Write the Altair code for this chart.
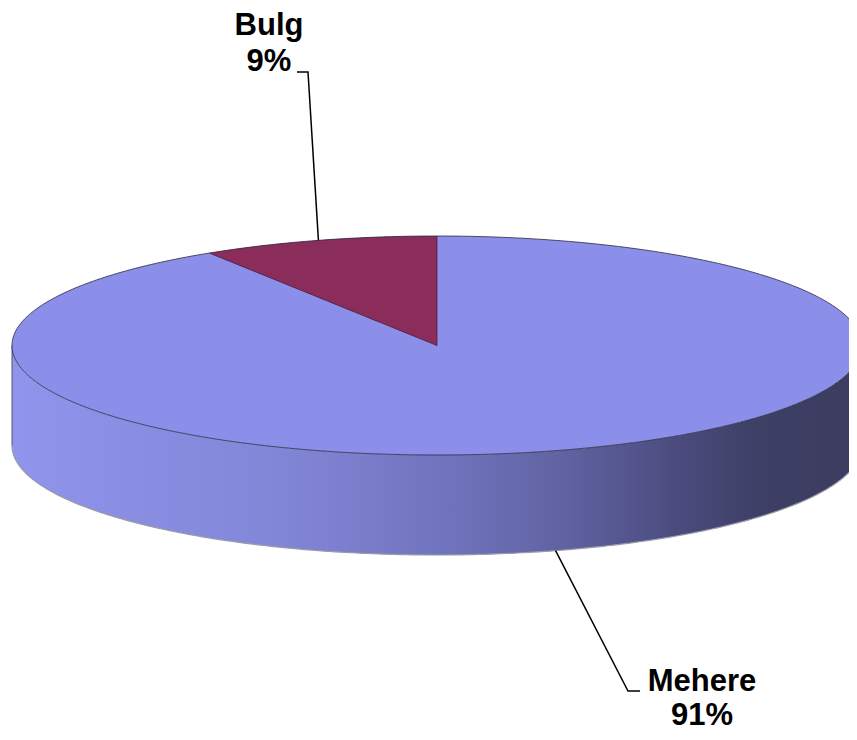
import numpy as np
import pandas as pd
import altair as alt

# ---- data ----
categories = ["Mehere", "Bulg"]
values = [91, 9]

# ---- 3D pie projection (layout) ----
CX, CY = 437.0, 345.5      # centre of top face (page px)
RX, RY = 425.0, 109.5      # ellipse radii
DEPTH = 100.0              # thickness of the pie
N = 240

total = float(sum(values))
bulg_share = values[1] / total
alpha = 2 * np.pi * bulg_share          # Bulg runs from -alpha to 0 (12 o'clock, ccw)

def rim(theta):
    return CX + RX * np.sin(theta), CY - RY * np.cos(theta)

# top face (whole ellipse, Mehere colour)
phi = np.linspace(0, np.pi, N)
u = -np.cos(phi)
h = np.sin(phi)
top_df = pd.DataFrame({"x": CX + RX * u, "y": CY - RY * h, "y2": CY + RY * h})

# Bulg slice
th = np.linspace(-alpha, 0, 80)
bx, by = rim(th)
ex, ey = rim(-alpha)
t = (CX - bx) / (CX - ex)
bulg_df = pd.DataFrame({"x": bx, "y": by, "y2": CY + t * (ey - CY)})

# side wall (front half)
ths = np.linspace(np.pi / 2, 3 * np.pi / 2, N)
sx, sy = rim(ths)
side_df = pd.DataFrame({"x": sx, "y": sy, "y2": sy + DEPTH}).sort_values("x")

# outlines
tho = np.linspace(0, 2 * np.pi, 400)
ox, oy = rim(tho)
rim_df = pd.DataFrame({"x": ox, "y": oy, "i": np.arange(len(ox))})
bot_df = pd.DataFrame({"x": sx, "y": sy + DEPTH, "i": np.arange(len(sx))})
tx0, ty0 = rim(0.0)
edge_df = pd.DataFrame({"x": [ex, CX, tx0], "y": [ey, CY, ty0], "i": [0, 1, 2]})
lx, ly = rim(3 * np.pi / 2)
left_df = pd.DataFrame({"x": [lx, lx], "y": [ly, ly + DEPTH], "i": [0, 1]})

# leader lines anchored at slice mid-angles
mb = -alpha / 2
mbx, mby = rim(mb)
mm = (2 * np.pi - alpha) / 2
mmx, mmy = rim(mm)
mmy += DEPTH
lead_df = pd.DataFrame({
    "cat": ["Bulg"] * 3 + ["Mehere"] * 3,
    "x": [mbx, 308, 297, mmx, 628, 640],
    "y": [mby, 72, 72, mmy, 691, 691],
    "i": [0, 1, 2, 0, 1, 2],
})

pcts = [f"{round(v / total * 100)}%" for v in values]
lab_df = pd.DataFrame({
    "name": categories,
    "pct": pcts,
    "x": [702, 269],
    "y1": [691, 35],
    "y2": [725, 71],
})

xs = alt.Scale(domain=[8, 849], nice=False, zero=False)
ys = alt.Scale(domain=[8, 732], nice=False, zero=False, reverse=True)
X = alt.X("x:Q", scale=xs, axis=None)
Y = alt.Y("y:Q", scale=ys, axis=None)

grad = alt.Gradient(
    gradient="linear",
    stops=[
        alt.GradientStop(color="#9094EC", offset=0),
        alt.GradientStop(color="#8387D8", offset=0.3),
        alt.GradientStop(color="#7175BF", offset=0.5),
        alt.GradientStop(color="#6062A2", offset=0.65),
        alt.GradientStop(color="#4B4C7E", offset=0.78),
        alt.GradientStop(color="#3E3F65", offset=0.88),
        alt.GradientStop(color="#3B3C5F", offset=1),
    ],
    x1=0, x2=1, y1=0, y2=0,
)

side = alt.Chart(side_df).mark_area(fill=grad, stroke=None).encode(x=X, y=Y, y2="y2:Q")
bottom = alt.Chart(bot_df).mark_line(color="#9a9aa8", strokeWidth=1.2).encode(x=X, y=Y, order="i:Q")
left = alt.Chart(left_df).mark_line(color="#55556a", strokeWidth=1).encode(x=X, y=Y, order="i:Q")
top = alt.Chart(top_df).mark_area(color="#8C8FEA").encode(x=X, y=Y, y2="y2:Q")
bulg = alt.Chart(bulg_df).mark_area(color="#8B2D5A").encode(x=X, y=Y, y2="y2:Q")
rimline = alt.Chart(rim_df).mark_line(color="#2a2a40", strokeWidth=1, opacity=0.8).encode(x=X, y=Y, order="i:Q")
edges = alt.Chart(edge_df).mark_line(color="#3a1a30", strokeWidth=1, opacity=0.7).encode(x=X, y=Y, order="i:Q")
leads = alt.Chart(lead_df).mark_line(color="#000000", strokeWidth=1.5).encode(
    x=X, y=Y, order="i:Q", detail="cat:N")

txt_kw = dict(font="Liberation Sans", fontSize=31, fontWeight="bold", color="#000000",
              align="center", baseline="alphabetic")
t1 = alt.Chart(lab_df).mark_text(**txt_kw).encode(x=X, y=alt.Y("y1:Q", scale=ys, axis=None), text="name:N")
t2 = alt.Chart(lab_df).mark_text(**txt_kw).encode(x=X, y=alt.Y("y2:Q", scale=ys, axis=None), text="pct:N")

chart = alt.layer(side, bottom, left, top, bulg, rimline, edges, leads, t1, t2).properties(
    width=841, height=724, padding=0, autosize=alt.AutoSizeParams(type="none"),
    background="white",
).configure_view(stroke=None)

chart.save("out.html", embed_options={"renderer": "svg", "actions": False})
